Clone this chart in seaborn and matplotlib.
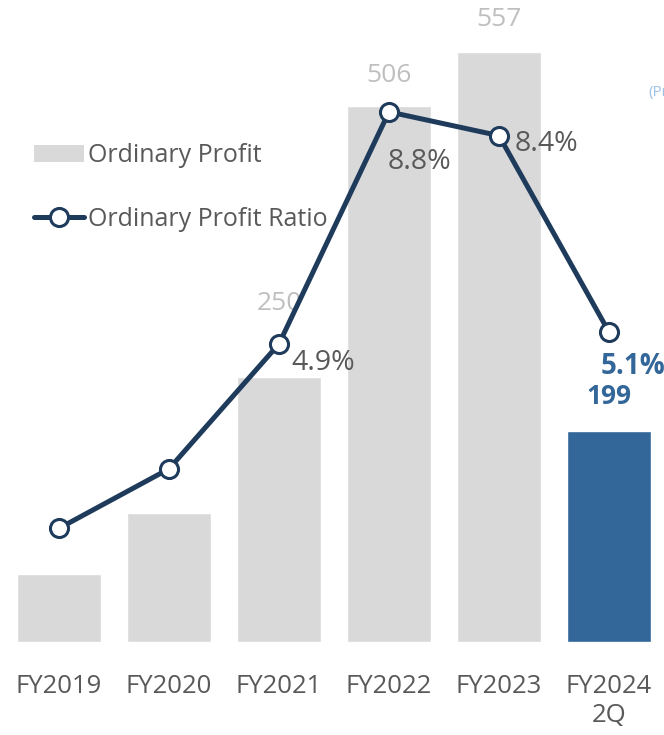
import matplotlib
matplotlib.use("Agg")
import matplotlib.pyplot as plt
from matplotlib.lines import Line2D
from matplotlib.patches import Patch
import pandas as pd
import seaborn as sns

years = ["FY2019", "FY2020", "FY2021", "FY2022", "FY2023", "FY2024\n2Q"]
profit = [64, 122, 250, 506, 557, 199]
ratio = [1.8, 2.8, 4.9, 8.8, 8.4, 5.1]
profit_labels = ["", "", "250", "506", "557", "199"]
ratio_labels = ["", "", "4.9%", "8.8%", "8.4%", "5.1%"]

grey = "#d9d9d9"
blue = "#336699"
navy = "#1f3b5c"
text_grey = "#595959"

sns.set_style("white")
plt.rcParams["font.family"] = ["Open Sans", "DejaVu Sans"]

df = pd.DataFrame({"year": years, "profit": profit, "ratio": ratio})

fig = plt.figure(figsize=(6.64, 7.35), dpi=100)
ax = fig.add_axes([0, 93 / 735, 1, 642 / 735])

colors = [grey] * 5 + [blue]
sns.barplot(df, x="year", y="profit", hue="year", palette=colors, legend=False,
            width=0.764, ax=ax, saturation=1)
ax.set_ylim(0, 605.7)
ax.set_xlim(-0.536, 5.5)

ax2 = ax.twinx()
sns.lineplot(df, x="year", y="ratio", color=navy, linewidth=3.6, marker="o",
             markersize=13, markerfacecolor="white", markeredgecolor=navy,
             markeredgewidth=2.2, ax=ax2, sort=False)
ax2.set_ylim(-0.11, 10.68)
ax2.set_xlim(-0.536, 5.5)

# bar value labels (offsets in points)
bar_off = {2: 53, 3: 22, 4: 23, 5: 25}
for i, lab in enumerate(profit_labels):
    if not lab:
        continue
    last = i == len(years) - 1
    ax.annotate(lab, (i, profit[i]), xytext=(0, bar_off[i]), textcoords="offset points",
                ha="center", va="center", fontsize=19,
                color=blue if last else "#bfbfbf",
                fontweight="bold" if last else "normal")

rat_off = {2: (32, -14), 3: (22, -36), 4: (34, -6), 5: (17, -25)}
for i, lab in enumerate(ratio_labels):
    if not lab:
        continue
    last = i == len(years) - 1
    dx, dy = rat_off[i]
    ax2.annotate(lab, (i, ratio[i]), xytext=(dx, dy), textcoords="offset points",
                 ha="center", va="center", fontsize=20 if last else 20.5,
                 color=blue if last else text_grey,
                 fontweight="bold" if last else "normal")

for a in (ax, ax2):
    for s in a.spines.values():
        s.set_visible(False)
    a.set_ylabel("")
    a.set_yticks([])
ax.set_xlabel("")
ax2.set_xlabel("")
ax.tick_params(axis="x", length=0, pad=23, labelsize=18.5, labelcolor=text_grey)
ax2.tick_params(axis="x", length=0)

handles = [
    Patch(facecolor=grey, edgecolor="none"),
    Line2D([0], [0], color=navy, linewidth=3.6, marker="o", markersize=13,
           markerfacecolor="white", markeredgecolor=navy, markeredgewidth=2.2),
]
fig.legend(handles, ["Ordinary Profit", "Ordinary Profit Ratio"],
           loc="upper left", bbox_to_anchor=(34 / 664, 1 - 143 / 735),
           frameon=False, fontsize=18, labelcolor=text_grey,
           handlelength=2.0, handletextpad=0.15, labelspacing=1.55,
           borderpad=0, borderaxespad=0)

fig.text(648 / 664, 1 - 92 / 735, "(Preliminary)", color="#9dc3e6", fontsize=11,
         ha="left", va="center")

fig.savefig("out.png", dpi=100)
